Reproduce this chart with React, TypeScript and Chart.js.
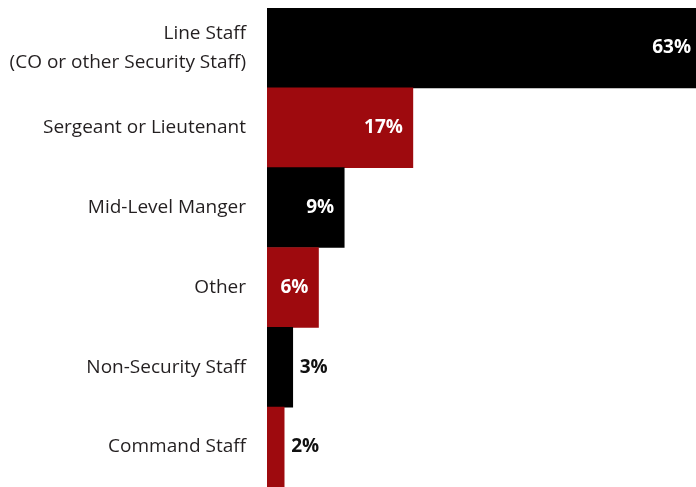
import React, { useEffect, useRef } from "react";
import { Chart, registerables } from "chart.js";

Chart.register(...registerables);

const categories: (string | string[])[] = [
  ["Line Staff", "(CO or other Security Staff)"],
  "Sergeant or Lieutenant",
  "Mid-Level Manger",
  "Other",
  "Non-Security Staff",
  "Command Staff",
];
const values = [63, 17, 9, 6, 3, 2];
const valueLabels = ["63%", "17%", "9%", "6%", "3%", "2%"];
const barColors = ["#000000", "#9e0a0e", "#000000", "#9e0a0e", "#000000", "#9e0a0e"];

const FONT = "'Open Sans', sans-serif";

const valueLabelPlugin = {
  id: "valueLabels",
  afterDatasetsDraw(chart: any) {
    const { ctx, chartArea } = chart;
    const meta = chart.getDatasetMeta(0);
    ctx.save();
    ctx.font = `bold 19px ${FONT}`;
    ctx.textBaseline = "middle";
    meta.data.forEach((bar: any, i: number) => {
      const clipped = bar.x > chartArea.right;
      const end = Math.min(bar.x, chartArea.right);
      const width = end - bar.base;
      const text = valueLabels[i];
      if (width > 45) {
        ctx.fillStyle = "#ffffff";
        ctx.textAlign = "right";
        ctx.fillText(text, end - (clipped ? 5 : 10), bar.y);
      } else {
        ctx.fillStyle = "#111111";
        ctx.textAlign = "left";
        ctx.fillText(text, end + 7, bar.y);
      }
    });
    ctx.restore();
  },
};

export default function App() {
  const canvasRef = useRef<HTMLCanvasElement | null>(null);

  useEffect(() => {
    document.body.style.margin = "0";
    const canvas = canvasRef.current;
    if (!canvas) return;
    const chart = new Chart(canvas, {
      type: "bar",
      data: {
        labels: categories,
        datasets: [
          {
            data: values,
            backgroundColor: barColors,
            borderWidth: 0,
            barPercentage: 1,
            categoryPercentage: 1,
          },
        ],
      },
      options: {
        indexAxis: "y",
        animation: false,
        responsive: false,
        maintainAspectRatio: false,
        layout: { padding: { top: 8, bottom: 0, left: 0, right: 0 } },
        plugins: {
          legend: { display: false },
          tooltip: { enabled: false },
        },
        scales: {
          x: {
            display: false,
            min: 0,
            max: 50,
          },
          y: {
            grid: { display: false, drawTicks: false },
            border: { display: false },
            ticks: {
              padding: 21,
              color: "#231f20",
              font: { family: FONT, size: 19, lineHeight: 1.5 },
            },
            afterFit: (scale: any) => {
              scale.width = 267;
              scale.paddingTop = 0;
              scale.paddingBottom = 0;
            },
          },
        },
      },
      plugins: [valueLabelPlugin],
    });
    return () => chart.destroy();
  }, []);

  return (
    <div style={{ width: 696, height: 487, position: "relative" }}>
      <canvas ref={canvasRef} width={696} height={487} style={{ display: "block" }} />
    </div>
  );
}
